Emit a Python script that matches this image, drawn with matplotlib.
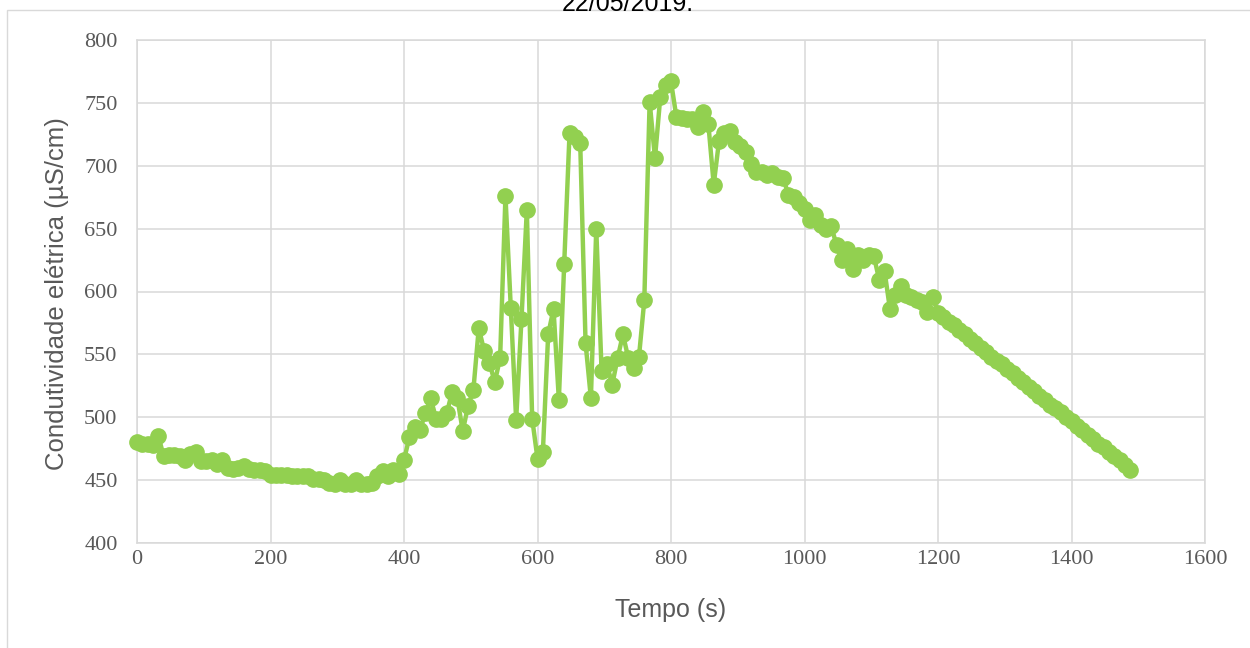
from __future__ import annotations

import matplotlib

matplotlib.use("Agg")
import matplotlib.pyplot as plt
from matplotlib.patches import Rectangle

# tempo de leitura (s)
tempo_s = [
    0, 8, 16, 24, 32, 40, 48, 56, 64, 72,
    80, 88, 96, 104, 112, 120, 128, 136, 144, 152,
    160, 168, 176, 184, 192, 200, 208, 216, 224, 232,
    240, 248, 256, 264, 272, 280, 288, 296, 304, 312,
    320, 328, 336, 344, 352, 360, 368, 376, 384, 392,
    400, 408, 416, 424, 432, 440, 448, 456, 464, 472,
    480, 488, 496, 504, 512, 520, 528, 536, 544, 552,
    560, 568, 576, 584, 592, 600, 608, 616, 624, 632,
    640, 648, 656, 664, 672, 680, 688, 696, 704, 712,
    720, 728, 736, 744, 752, 760, 768, 776, 784, 792,
    800, 808, 816, 824, 832, 840, 848, 856, 864, 872,
    880, 888, 896, 904, 912, 920, 928, 936, 944, 952,
    960, 968, 976, 984, 992, 1000, 1008, 1016, 1024, 1032,
    1040, 1048, 1056, 1064, 1072, 1080, 1088, 1096, 1104, 1112,
    1120, 1128, 1136, 1144, 1152, 1160, 1168, 1176, 1184, 1192,
    1200, 1208, 1216, 1224, 1232, 1240, 1248, 1256, 1264, 1272,
    1280, 1288, 1296, 1304, 1312, 1320, 1328, 1336, 1344, 1352,
    1360, 1368, 1376, 1384, 1392, 1400, 1408, 1416, 1424, 1432,
    1440, 1448, 1456, 1464, 1472, 1480, 1488,
]

# condutividade eletrica (uS/cm)
condutividade = [
    480, 479, 479, 478, 485, 469, 470, 470, 469, 466,
    471, 472, 465, 465, 466, 463, 466, 460, 459, 460,
    461, 459, 458, 458, 457, 454, 454, 454, 454, 453,
    453, 453, 453, 451, 451, 450, 448, 447, 450, 447,
    447, 450, 447, 447, 448, 453, 457, 453, 458, 455,
    466, 484, 492, 490, 503, 515, 499, 499, 503, 520,
    515, 489, 509, 522, 571, 553, 543, 528, 547, 676,
    587, 498, 578, 665, 499, 467, 472, 566, 586, 514,
    622, 726, 723, 718, 559, 515, 650, 537, 542, 526,
    547, 566, 547, 539, 548, 593, 751, 706, 755, 764,
    767, 739, 738, 737, 737, 731, 743, 733, 685, 720,
    726, 728, 719, 716, 711, 701, 695, 695, 693, 694,
    691, 690, 677, 675, 670, 666, 657, 661, 653, 650,
    652, 637, 625, 634, 618, 629, 625, 629, 628, 609,
    616, 586, 597, 604, 597, 596, 593, 592, 584, 596,
    583, 580, 576, 573, 569, 566, 562, 559, 555, 552,
    548, 545, 542, 538, 535, 531, 528, 524, 521, 517,
    514, 510, 507, 504, 500, 497, 493, 490, 486, 483,
    479, 476, 472, 469, 466, 462, 458,
]

x_ticks = [0, 200, 400, 600, 800, 1000, 1200, 1400, 1600]
y_ticks = [400, 450, 500, 550, 600, 650, 700, 750, 800]

W, H = 1250, 648
GREEN = "#92D050"
GRID = "#D9D9D9"
LABEL = "#595959"


def main() -> None:
    fig = plt.figure(figsize=(W / 100, H / 100), dpi=100)
    fig.patch.set_facecolor("#FFFFFF")

    # chart border (Excel chart area), runs off the right and bottom edges
    fig.add_artist(Rectangle((7 / W, -0.2), 1.5, 1.2 - 10 / H, transform=fig.transFigure,
                             fill=False, edgecolor=GRID, linewidth=1.0))

    ax = fig.add_axes([137 / W, 1 - 543 / H, (1205 - 137) / W, (543 - 40) / H])
    ax.plot(tempo_s, condutividade, color=GREEN, linewidth=3.2, marker="o",
            markersize=11, markerfacecolor=GREEN, markeredgecolor=GREEN, zorder=3,
            clip_on=False)

    ax.set_xlim(0, 1600)
    ax.set_ylim(400, 800)
    ax.set_xticks(x_ticks)
    ax.set_yticks(y_ticks)
    ax.grid(True, color=GRID, linewidth=1.1)
    ax.set_axisbelow(True)
    for side in ("top", "right", "bottom", "left"):
        ax.spines[side].set_color(GRID)
        ax.spines[side].set_linewidth(1.1)

    ax.tick_params(axis="both", length=0, labelcolor=LABEL, labelsize=16)
    ax.tick_params(axis="y", pad=14)
    ax.tick_params(axis="x", pad=5)
    for lab in ax.get_xticklabels() + ax.get_yticklabels():
        lab.set_fontfamily("Liberation Serif")

    fig.text(671 / W, 1 - 610 / H, "Tempo (s)", ha="center", va="center",
             fontsize=18, color=LABEL, family="Liberation Sans")
    fig.text(57 / W, 1 - 294 / H, "Condutividade elétrica (µS/cm)", ha="center", va="center",
             rotation=90, fontsize=18.5, color=LABEL, family="Liberation Sans")

    # title sits mostly above the canvas, only its lower part shows
    fig.text(628 / W, 1 - 11 / H, "22/05/2019.", ha="center", va="baseline",
             fontsize=18, color="#000000", family="Liberation Sans")

    fig.savefig("out.png", dpi=100)
    plt.close(fig)


if __name__ == "__main__":
    main()
